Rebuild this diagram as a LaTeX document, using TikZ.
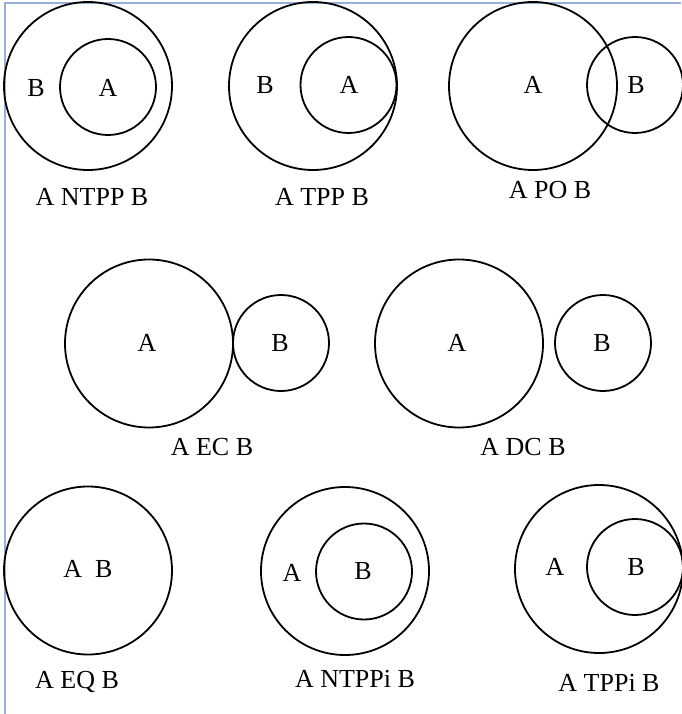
\documentclass[tikz,border=0pt]{standalone}
\usepackage{fontspec}
\setmainfont{Liberation Serif}
\definecolor{frameblue}{RGB}{150,176,216}

\begin{document}
\begin{tikzpicture}[x=1pt,y=-1pt,
    big/.style={draw,circle,minimum size=168pt,inner sep=0pt,line width=1.8pt},
    small/.style={draw,circle,minimum size=96pt,inner sep=0pt,line width=1.8pt},
    lbl/.style={inner sep=0pt,font=\fontsize{26}{30}\selectfont}]
      \useasboundingbox (0,0) rectangle (681,714);
      \draw[frameblue,line width=1.2pt] (5,714) -- (5,3) -- (681,3);
      % A NTPP B
      \node[big] (b1) at (88,86) {};
      \node[small] (a1) at (108,87) {};
      \node[lbl] (lb1) at (36,88) {B};
      \node[lbl] (la1) at (108,88) {A};
      \node[lbl] (t1) at (92,197) {A NTPP B};
      % A TPP B
      \node[big] (b2) at (313,86) {};
      \node[small] (a2) at (348.5,85) {};
      \node[lbl] (lb2) at (265,85) {B};
      \node[lbl] (la2) at (349,85) {A};
      \node[lbl] (t2) at (322,197) {A TPP B};
      % A PO B
      \node[big] (a3) at (533,86) {};
      \node[small] (b3) at (635,85) {};
      \node[lbl] (la3) at (533,85) {A};
      \node[lbl] (lb3) at (636,85) {B};
      \node[lbl] (t3) at (550,190) {A PO B};
      % A EC B
      \node[big] (a4) at (149,343.5) {};
      \node[small] (b4) at (281,343) {};
      \node[lbl] (la4) at (147,343) {A};
      \node[lbl] (lb4) at (280,343) {B};
      \node[lbl] (t4) at (212,447) {A EC B};
      % A DC B
      \node[big] (a5) at (459,343.5) {};
      \node[small] (b5) at (603,343) {};
      \node[lbl] (la5) at (457,343) {A};
      \node[lbl] (lb5) at (602,343) {B};
      \node[lbl] (t5) at (523,447) {A DC B};
      % A EQ B
      \node[big] (ab6) at (88,570.5) {};
      \node[lbl] (lab6) at (88,569) {A~~B};
      \node[lbl] (t6) at (77,682) {A EQ B};
      % A NTPPi B
      \node[big] (a7) at (345,571) {};
      \node[small] (b7) at (364,571.5) {};
      \node[lbl] (la7) at (292,573) {A};
      \node[lbl] (lb7) at (363,571) {B};
      \node[lbl] (t7) at (355,679) {A NTPPi B};
      % A TPPi B
      \node[big] (a8) at (599,569) {};
      \node[small] (b8) at (635,567) {};
      \node[lbl] (la8) at (555,567) {A};
      \node[lbl] (lb8) at (636,567) {B};
      \node[lbl] (t8) at (609,683) {A TPPi B};
\end{tikzpicture}
\end{document}
